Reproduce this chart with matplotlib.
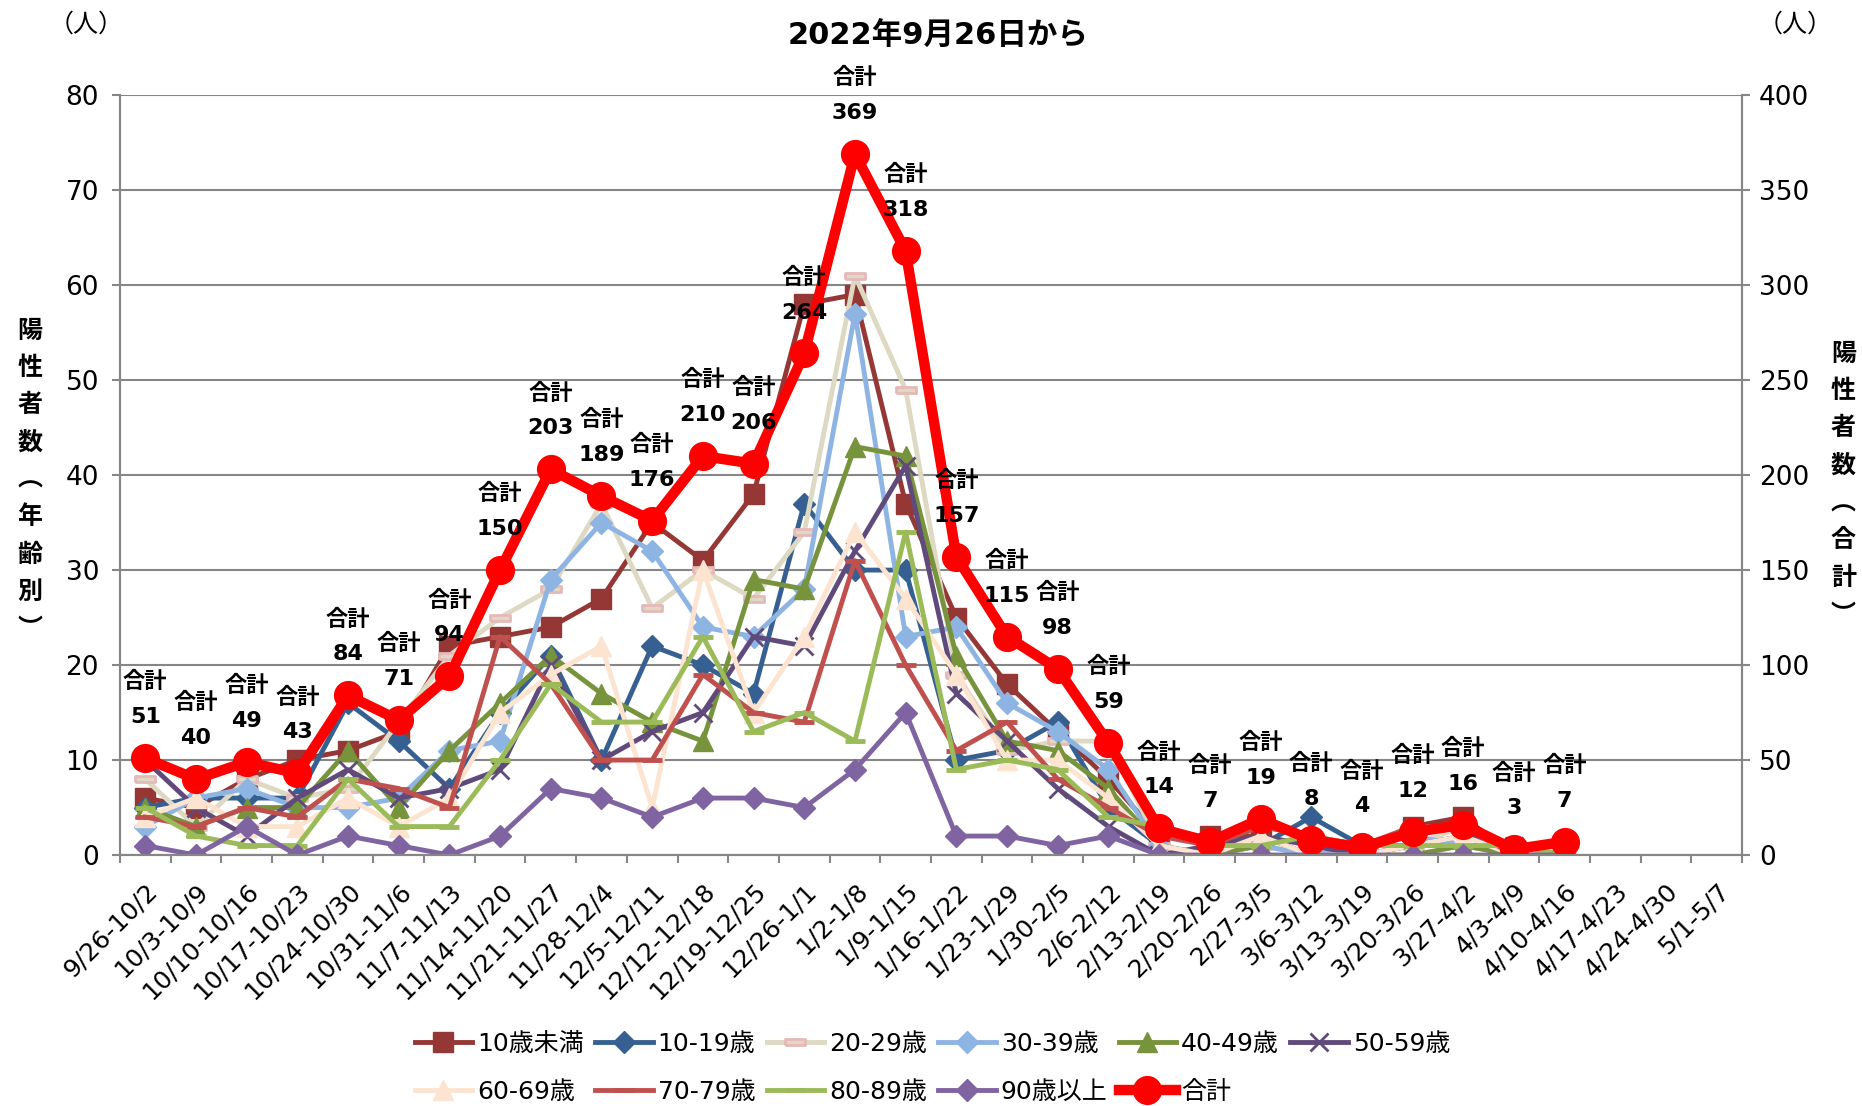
import matplotlib
matplotlib.use("Agg")
import matplotlib.pyplot as plt

plt.rcParams['font.family'] = ['DejaVu Sans', 'Noto Sans CJK JP']

weeks = ["9/26-10/2", "10/3-10/9", "10/10-10/16", "10/17-10/23", "10/24-10/30",
         "10/31-11/6", "11/7-11/13", "11/14-11/20", "11/21-11/27", "11/28-12/4",
         "12/5-12/11", "12/12-12/18", "12/19-12/25", "12/26-1/1", "1/2-1/8",
         "1/9-1/15", "1/16-1/22", "1/23-1/29", "1/30-2/5", "2/6-2/12",
         "2/13-2/19", "2/20-2/26", "2/27-3/5", "3/6-3/12", "3/13-3/19",
         "3/20-3/26", "3/27-4/2", "4/3-4/9", "4/10-4/16", "4/17-4/23",
         "4/24-4/30", "5/1-5/7"]

# 年齢別（左軸）
under10 = [6, 5, 8, 10, 11, 13, 22, 23, 24, 27, 35, 31, 38, 58, 59, 37, 25, 18, 13, 8, 2, 2, 2, 0, 0, 3, 4, 0, 0]
age10 = [5, 6, 6, 6, 16, 12, 7, 15, 21, 10, 22, 20, 17, 37, 30, 30, 10, 11, 14, 5, 1, 0, 1, 4, 1, 1, 1, 1, 0]
age20 = [8, 3, 8, 6, 7, 14, 21, 25, 28, 37, 26, 30, 27, 34, 61, 49, 19, 11, 12, 12, 1, 0, 1, 0, 0, 1, 3, 0, 1]
age30 = [3, 6, 7, 5, 5, 6, 11, 12, 29, 35, 32, 24, 23, 28, 57, 23, 24, 16, 13, 9, 1, 0, 1, 0, 1, 2, 1, 0, 0]
age40 = [5, 3, 5, 5, 11, 5, 11, 16, 21, 17, 14, 12, 29, 28, 43, 42, 21, 12, 11, 7, 1, 0, 1, 2, 0, 0, 1, 0, 0]
age50 = [10, 5, 2, 6, 9, 6, 7, 9, 20, 10, 13, 15, 23, 22, 32, 41, 17, 12, 7, 3, 0, 1, 2, 1, 0, 1, 2, 1, 0]
age60 = [4, 6, 3, 3, 6, 3, 6, 15, 19, 22, 5, 30, 15, 23, 34, 27, 19, 10, 10, 6, 1, 0, 2, 0, 0, 1, 2, 0, 1]
age70 = [4, 3, 5, 4, 8, 7, 5, 23, 18, 10, 10, 19, 15, 14, 31, 20, 11, 14, 8, 5, 2, 1, 3, 2, 1, 3, 3, 0, 0]
age80 = [5, 2, 1, 1, 8, 3, 3, 10, 18, 14, 14, 23, 13, 15, 12, 34, 9, 10, 9, 4, 3, 1, 1, 2, 1, 1, 1, 1, 0]
age90 = [1, 0, 3, 0, 2, 1, 0, 2, 7, 6, 4, 6, 6, 5, 9, 15, 2, 2, 1, 2, 0, 0, 0, 0, 0, 0, 0, 0, 0]
# 合計（右軸）
total = [51, 40, 49, 43, 84, 71, 94, 150, 203, 189, 176, 210, 206, 264, 369, 318,
         157, 115, 98, 59, 14, 7, 19, 8, 4, 12, 16, 3, 7]

labels = ["10歳未満", "10-19歳", "20-29歳", "30-39歳", "40-49歳", "50-59歳",
          "60-69歳", "70-79歳", "80-89歳", "90歳以上"]
series = [under10, age10, age20, age30, age40, age50, age60, age70, age80, age90]

rect = [(-1.5, -0.5), (1.5, -0.5), (1.5, 0.5), (-1.5, 0.5), (-1.5, -0.5)]
styles = [
    dict(color="#953735", marker="s", ms=15),
    dict(color="#376092", marker="D", ms=11),
    dict(color="#DDD9C3", marker=rect, ms=14, mfc="#DDD9C3", mec="#E6B9B8", mew=2),
    dict(color="#8EB4E3", marker="D", ms=11),
    dict(color="#77933C", marker="^", ms=15),
    dict(color="#604A7B", marker="x", ms=13, mew=2),
    dict(color="#FDE4D0", marker="^", ms=15),
    dict(color="#C0504D", marker="_", ms=15, mew=3.5),
    dict(color="#9BBB59", marker="_", ms=15, mew=3.5),
    dict(color="#8064A2", marker="D", ms=11),
]

grid_c = "#868686"

fig = plt.figure(figsize=(18.62, 11.06), dpi=100)
ax = fig.add_axes([0.0644, 0.2269, 0.8712, 0.6871])
ax2 = ax.twinx()

x = list(range(len(total)))
handles = []
for vals, lab, st in zip(series, labels, styles):
    h, = ax.plot(x, vals, lw=3.5, label=lab, **st)
    handles.append(h)

ht, = ax2.plot(x, total, color="#FF0000", lw=7.5, marker="o", ms=20, label="合計")
handles.append(ht)

for i, t in enumerate(total):
    ax2.annotate(str(t), (i, t), xytext=(0, 29.5), textcoords="offset points",
                 ha="center", va="center", fontsize=16, fontweight="bold")
    ax2.annotate("合計", (i, t), xytext=(0, 55), textcoords="offset points",
                 ha="center", va="center", fontsize=16, fontweight="bold")

ax.set_xlim(-0.5, len(weeks) - 0.5)
ax.set_ylim(0, 80)
ax2.set_ylim(0, 400)
ax.set_yticks(range(0, 81, 10))
ax2.set_yticks(range(0, 401, 50))
ax.set_xticks(range(len(weeks)))
ax.set_xticklabels(weeks, rotation=45, ha="right", va="top", rotation_mode="anchor", fontsize=18)
ax.set_xticks([i - 0.5 for i in range(len(weeks) + 1)], minor=True)
ax.tick_params(axis="x", which="major", length=0, pad=17)
ax.tick_params(axis="x", which="minor", length=6, width=1.5, color=grid_c)
ax.tick_params(axis="y", length=6, width=1.5, color=grid_c, labelsize=19, pad=9)
ax2.tick_params(axis="y", length=6, width=1.5, color=grid_c, labelsize=19, pad=6)

ax.grid(axis="y", color=grid_c, lw=1.5)
ax.set_axisbelow(True)
for a in (ax, ax2):
    a.spines["top"].set_visible(False)
    for s in ("left", "right", "bottom"):
        a.spines[s].set_color(grid_c)
        a.spines[s].set_linewidth(1.5)

fig.text(0.504, 0.968, "2022年9月26日から", ha="center", va="center",
         fontsize=22, fontweight="bold")
fig.text(0.046, 0.978, "（人）", ha="center", va="center", fontsize=18)
fig.text(0.964, 0.978, "（人）", ha="center", va="center", fontsize=18)

left_lab = "\n".join(["陽", "性", "者", "数", "︵", "年", "齢", "別", "︶"])
right_lab = "\n".join(["陽", "性", "者", "数", "︵", "合", "計", "︶"])
fig.text(0.016, 0.566, left_lab, ha="center", va="center", fontsize=18,
         fontweight="bold", linespacing=1.7, family=["Noto Sans CJK JP", "DejaVu Sans"])
fig.text(0.990, 0.562, right_lab, ha="center", va="center", fontsize=18,
         fontweight="bold", linespacing=1.7, family=["Noto Sans CJK JP", "DejaVu Sans"])

order = [0, 6, 1, 7, 2, 8, 3, 9, 4, 10, 5]
fig.legend([handles[k] for k in order], [handles[k].get_label() for k in order],
           loc="upper left", bbox_to_anchor=(0.216, 0.078), ncol=6, frameon=False,
           fontsize=18, handlelength=2.3, handletextpad=0.2, columnspacing=0.45,
           labelspacing=0.95, borderpad=0, numpoints=1)

fig.savefig("out.png", dpi=100)
